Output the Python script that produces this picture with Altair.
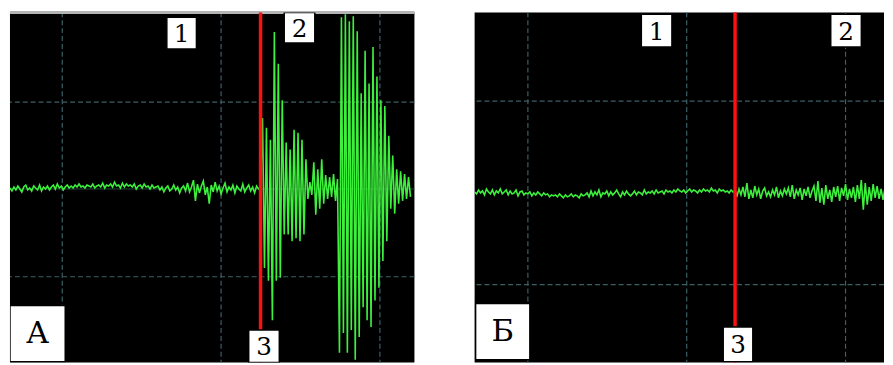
import altair as alt
import pandas as pd

# ---------------- Panel A data (x in px steps of 2, y in px above baseline) ----------------
a_noise_1 = [1, -2, 2, -1, 3, 0, -3, 2, 4, -1, 1, -2, 3, 1, -1, 4, -2, 2, 0, 3, -1, 2, 4, 0, 5, 1, 3, -1, 2, 4, 1]
a_noise_2 = [3, 1, 4, 2, 5, 2, 3, 1, 4, 3, 2, 5, 1, 3, 4, 2, 6, 1, 4, 3, 5, 2, 7, 3, 4, 1, 6, 2, 5, 3, 4, 2, 5, 0, 3,
             4, 1, 5, 2, 3, 0, 4, 1, 2, 3]
a_noise_3 = [-1, 2, -3, 1, 3, -2, 0, 4, -1, 2, -4, 1, 3, -2, 6, -3, 2, 9, -12, 5, -4, 3, 8, -6, 2, -15, 4, -3, 7, -2,
             3, -5, 1, 6, -3, 2, -1, 4, -4, 3, 0, -2, 5, -3, 1, 4, -2, 2, -4, 3, 0]
a_burst = [2, 72, -80, 62, -93, 50, -133, 159, -93, 127, -90, 90, -46, 47, -46, 40, -53, 60, -50, 57, -53, 50, -46,
           30, -10, 7, -6, 27, -26, 20, -20, 30, -15, 14, -10, 12, -8, 15, -12, 10,
           -166, 174, -146, 177, -166, 170, -143, 175, -173, 160, -150,
           97, -120, 140, -133, 107, -140, 144, -113, 114, -100, 90, -73, 84, -53, 54, -20, 34, -25, 20, -15, 18,
           -12, 15, -10, 12, -8]
a_signal = a_noise_1 + a_noise_2 + a_noise_3 + a_burst
a_step = 2

a_grid_x = [53, 214, 375]
a_grid_y = [88, -89]
a_red_x = 254
a_labels = ["1", "2", "3", "А"]
a_box_x1 = [159, 278, 242, 0]
a_box_x2 = [189, 309, 273, 56]
a_box_y1 = [174, 179, -143, -118]
a_box_y2 = [142, 148, -176, -175]
a_font = [25, 25, 25, 31]

# ---------------- Panel B data ----------------
b_noise_1 = [1, -1, 3, 0, 2, -2, 4, 1, -1, 3, -2, 2, 0, 4, -1, 1, 3, -2, 2, -1, 0, 3, -3, 1, 2, -2, 0, -1, 1, -3,
             0, -2, 1, -1, -3, 0, -2, -1, -4, -2]
b_noise_2 = [-3, -2, -4, -1, -3, -5, -2, -4, -3, -1, -4, -2, -3, -5, -1, -3, -2, 0, -4, 2, -3, 1, -2, 3, -4, 0, -1,
             2, -3, 1, -2, 0, 3, -1, -4, 1, -2, 2, -1, -3]
b_noise_3 = [-1, 2, -2, 1, 0, -2, 3, -1, 1, 0, 2, -1, 3, 0, 1, 2, -1, 3, 1, 2, 0, 3, 1, 4, 2, 1, 3, 0, 2, 4, 1, 3,
             2, 0, 3, 1, 4, 2, 3, 1, 5, 2, 3, 0, 4, 2, 3, 1, 2, 0, 3, 1]
b_after = [2, -3, 4, -2, 6, -4, 10, -6, 3, -5, 7, -2, 4, -6, 2, 5, -3, 1, -4, 3,
           -2, 6, -5, 2, -3, 4, -1, 5, -4, 8, -6, 3, -2, 5, -7, 4, -3, 6, -5, 2,
           7, -8, 12, -10, 5, -12, 8, -6, 3, -9, 6, -4, 7, -8, 5, -3, 9, -7, 4, -5,
           6, -9, 8, -6, 13, -17, 10, -12, 6, -8, 9, -5, 7, -6, 4, -7, 5]
b_signal = b_noise_1 + b_noise_2 + b_noise_3 + b_after
b_step = 2

b_grid_x = [54, 215, 376]
b_grid_y = [93, -93]
b_red_x = 264
b_labels = ["1", "2", "3", "Б"]
b_box_x1 = [169, 361, 252, 1]
b_box_x2 = [200, 392, 282, 56]
b_box_y1 = [181, 181, -136, -112]
b_box_y2 = [148, 148, -171, -169]
b_font = [25, 25, 25, 31]

GREEN = "#3cf03c"
GRID = "#3d6066"
RED = "#ff1010"
SERIF = "DejaVu Serif"


def panel(signal, step, grid_x, grid_y, red_x, labels, bx1, bx2, by1, by2, fonts,
          xdom, ydom, width, height, center_line=False, top_line=False):
    xs = alt.Scale(domain=xdom, nice=False, zero=False)
    ys = alt.Scale(domain=ydom, nice=False, zero=False)
    sig = pd.DataFrame({"t": [i * step for i in range(len(signal))], "v": signal})
    gx = pd.DataFrame({"x": grid_x})
    gy = pd.DataFrame({"y": grid_y})
    lab = pd.DataFrame({"lab": labels, "x1": bx1, "x2": bx2, "y1": by1, "y2": by2, "fs": fonts})
    lab["xc"] = (lab["x1"] + lab["x2"]) / 2
    lab["yc"] = (lab["y1"] + lab["y2"]) / 2
    red = pd.DataFrame({"x": [red_x]})

    layers = []
    layers.append(alt.Chart(gx).mark_rule(color=GRID, strokeDash=[5, 3], strokeWidth=1.2).encode(
        x=alt.X("x:Q", scale=xs, axis=None)))
    layers.append(alt.Chart(gy).mark_rule(color=GRID, strokeDash=[5, 3], strokeWidth=1.2).encode(
        y=alt.Y("y:Q", scale=ys, axis=None)))
    if center_line:
        layers.append(alt.Chart(pd.DataFrame({"y": [0]})).mark_rule(color="#2a4a40", strokeWidth=1).encode(
            y=alt.Y("y:Q", scale=ys, axis=None)))
    if top_line:
        layers.append(alt.Chart(pd.DataFrame({"y": [ydom[1]]})).mark_rule(color="#b4b4b4", strokeWidth=3).encode(
            y=alt.Y("y:Q", scale=ys, axis=None)))
    layers.append(alt.Chart(sig).mark_line(color=GREEN, strokeWidth=1.6, clip=True).encode(
        x=alt.X("t:Q", scale=xs, axis=None), y=alt.Y("v:Q", scale=ys, axis=None)))
    layers.append(alt.Chart(red).mark_rule(color=RED, strokeWidth=3.5).encode(
        x=alt.X("x:Q", scale=xs, axis=None)))
    layers.append(alt.Chart(lab).mark_rect(fill="white", stroke="black", strokeWidth=1.5, clip=True).encode(
        x=alt.X("x1:Q", scale=xs, axis=None), x2="x2:Q",
        y=alt.Y("y1:Q", scale=ys, axis=None), y2="y2:Q"))
    layers.append(alt.Chart(lab).mark_text(font=SERIF, color="black", baseline="middle",
                                           align="center", dy=1).encode(
        x=alt.X("xc:Q", scale=xs, axis=None), y=alt.Y("yc:Q", scale=ys, axis=None),
        text="lab:N", size=alt.Size("fs:Q", scale=None, legend=None)))
    return alt.layer(*layers).properties(width=width, height=height)


pa = panel(a_signal, a_step, a_grid_x, a_grid_y, a_red_x, a_labels, a_box_x1, a_box_x2, a_box_y1, a_box_y2,
           a_font, [0, 410], [-176, 179], 410, 355, center_line=True, top_line=True)
pb = panel(b_signal, b_step, b_grid_x, b_grid_y, b_red_x, b_labels, b_box_x1, b_box_x2, b_box_y1, b_box_y2,
           b_font, [0, 415], [-172, 183], 415, 355)

chart = alt.hconcat(pa, pb, spacing=58).properties(padding=0, background="white").configure_view(
    fill="black", stroke=None)

chart.save("out.html", embed_options={"renderer": "svg", "actions": False})
